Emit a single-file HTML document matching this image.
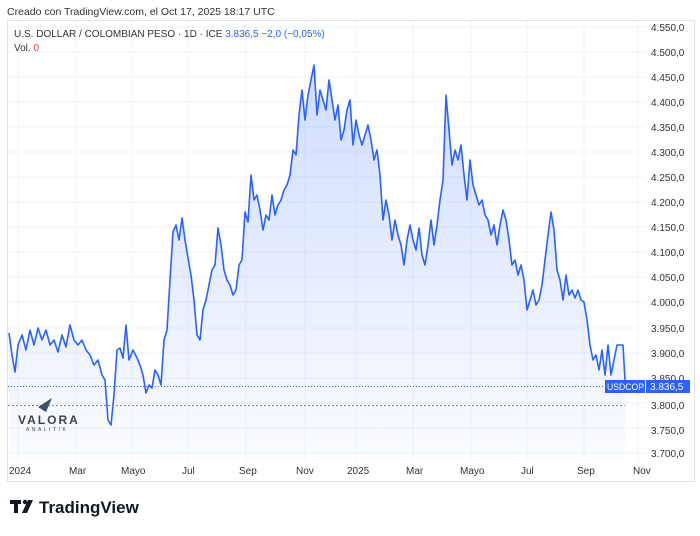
<!DOCTYPE html><html><head><style>body{margin:0;width:700px;height:531px;background:#fff;font-family:"Liberation Sans",sans-serif;overflow:hidden}</style></head><body>
<svg width="700" height="531" xmlns="http://www.w3.org/2000/svg" font-family="Liberation Sans, sans-serif">
<defs><linearGradient id="g" x1="0" y1="0" x2="0" y2="1"><stop offset="0" stop-color="#2962ff" stop-opacity="0.22"/><stop offset="1" stop-color="#2962ff" stop-opacity="0.02"/></linearGradient></defs>
<text x="7" y="15" font-size="10.5" fill="#333">Creado con TradingView.com, el Oct 17, 2025 18:17 UTC</text>
<rect x="7.5" y="20.5" width="687" height="461" fill="none" stroke="#e0e3eb"/>
<g stroke="#f0f3fa" stroke-width="1">
<line x1="18" y1="21" x2="18" y2="460"/><line x1="76" y1="21" x2="76" y2="460"/><line x1="132" y1="21" x2="132" y2="460"/><line x1="188" y1="21" x2="188" y2="460"/><line x1="246" y1="21" x2="246" y2="460"/><line x1="305" y1="21" x2="305" y2="460"/><line x1="356" y1="21" x2="356" y2="460"/><line x1="413" y1="21" x2="413" y2="460"/><line x1="471" y1="21" x2="471" y2="460"/><line x1="527" y1="21" x2="527" y2="460"/><line x1="584" y1="21" x2="584" y2="460"/><line x1="638" y1="21" x2="638" y2="460"/>
<line x1="8" y1="27" x2="645" y2="27"/><line x1="8" y1="52" x2="645" y2="52"/><line x1="8" y1="77" x2="645" y2="77"/><line x1="8" y1="102" x2="645" y2="102"/><line x1="8" y1="127" x2="645" y2="127"/><line x1="8" y1="152" x2="645" y2="152"/><line x1="8" y1="177" x2="645" y2="177"/><line x1="8" y1="202" x2="645" y2="202"/><line x1="8" y1="227" x2="645" y2="227"/><line x1="8" y1="252" x2="645" y2="252"/><line x1="8" y1="277" x2="645" y2="277"/><line x1="8" y1="302" x2="645" y2="302"/><line x1="8" y1="328" x2="645" y2="328"/><line x1="8" y1="353" x2="645" y2="353"/><line x1="8" y1="378" x2="645" y2="378"/><line x1="8" y1="403" x2="645" y2="403"/><line x1="8" y1="428" x2="645" y2="428"/><line x1="8" y1="453" x2="645" y2="453"/>
</g>
<polygon fill="url(#g)" points="9,460 9,333 12,355 15,372 18,345 22,335 26,350 30,330 34,345 38,328 42,340 46,330 50,345 54,340 58,352 62,335 66,347 70,325 74,340 78,345 82,340 86,350 90,355 94,365 98,360 102,375 105,380 108,420 111,425 114,395 117,350 120,348 123,358 126,325 129,360 133,350 137,358 140,365 143,375 146,393 149,385 152,388 155,370 158,375 161,385 164,340 167,330 170,280 173,232 176,225 179,240 182,218 185,240 188,258 191,275 194,300 197,335 200,340 203,310 206,300 209,285 212,270 215,265 218,228 221,245 224,270 227,280 230,285 233,295 236,290 239,265 242,260 245,212 248,222 251,175 254,200 257,195 260,210 263,230 266,215 269,220 272,195 275,215 278,205 281,200 284,190 287,185 290,175 293,150 296,155 299,115 302,90 305,120 308,95 311,80 314,65 317,115 320,90 323,100 326,110 329,80 332,100 335,120 338,105 341,140 344,130 347,110 350,100 353,145 356,120 359,135 362,145 365,135 368,125 371,140 374,160 377,150 380,175 383,220 386,200 389,215 392,240 395,220 398,235 401,245 404,265 407,240 410,225 413,240 416,250 419,228 422,255 425,265 428,245 431,220 434,245 437,225 440,200 443,180 446,95 449,130 452,165 455,150 458,160 461,145 464,175 467,200 470,160 473,185 476,195 479,205 482,200 485,215 488,220 491,235 494,225 497,245 500,225 503,210 506,220 509,240 512,265 515,260 518,275 521,265 524,280 527,310 530,300 533,290 536,305 539,300 542,285 545,260 548,235 551,212 554,230 557,270 560,280 563,300 566,275 569,295 572,290 575,298 578,290 581,300 584,302 587,320 590,345 593,360 596,355 599,370 602,350 605,375 608,345 611,375 614,360 617,345 620,345 623,345 625,380 625,460"/>
<polyline fill="none" stroke="#2962ff" stroke-width="1.6" stroke-linejoin="round" points="9,333 12,355 15,372 18,345 22,335 26,350 30,330 34,345 38,328 42,340 46,330 50,345 54,340 58,352 62,335 66,347 70,325 74,340 78,345 82,340 86,350 90,355 94,365 98,360 102,375 105,380 108,420 111,425 114,395 117,350 120,348 123,358 126,325 129,360 133,350 137,358 140,365 143,375 146,393 149,385 152,388 155,370 158,375 161,385 164,340 167,330 170,280 173,232 176,225 179,240 182,218 185,240 188,258 191,275 194,300 197,335 200,340 203,310 206,300 209,285 212,270 215,265 218,228 221,245 224,270 227,280 230,285 233,295 236,290 239,265 242,260 245,212 248,222 251,175 254,200 257,195 260,210 263,230 266,215 269,220 272,195 275,215 278,205 281,200 284,190 287,185 290,175 293,150 296,155 299,115 302,90 305,120 308,95 311,80 314,65 317,115 320,90 323,100 326,110 329,80 332,100 335,120 338,105 341,140 344,130 347,110 350,100 353,145 356,120 359,135 362,145 365,135 368,125 371,140 374,160 377,150 380,175 383,220 386,200 389,215 392,240 395,220 398,235 401,245 404,265 407,240 410,225 413,240 416,250 419,228 422,255 425,265 428,245 431,220 434,245 437,225 440,200 443,180 446,95 449,130 452,165 455,150 458,160 461,145 464,175 467,200 470,160 473,185 476,195 479,205 482,200 485,215 488,220 491,235 494,225 497,245 500,225 503,210 506,220 509,240 512,265 515,260 518,275 521,265 524,280 527,310 530,300 533,290 536,305 539,300 542,285 545,260 548,235 551,212 554,230 557,270 560,280 563,300 566,275 569,295 572,290 575,298 578,290 581,300 584,302 587,320 590,345 593,360 596,355 599,370 602,350 605,375 608,345 611,375 614,360 617,345 620,345 623,345 625,380"/>
<line x1="8" y1="386.5" x2="645" y2="386.5" stroke="#2962ff" stroke-width="1" stroke-dasharray="1,2"/>
<line x1="8" y1="405.5" x2="625" y2="405.5" stroke="#888" stroke-width="1" stroke-dasharray="2,2"/>
<text x="14" y="37" font-size="10" fill="#333">U.S. DOLLAR / COLOMBIAN PESO · 1D · ICE <tspan fill="#2962ff">3.836,5  −2,0 (−0,05%)</tspan></text>
<text x="14" y="51" font-size="10" fill="#333">Vol. <tspan fill="#f23645">0</tspan></text>
<g font-size="10" fill="#333">
<text x="651" y="31">4.550,0</text><text x="651" y="56">4.500,0</text><text x="651" y="81">4.450,0</text><text x="651" y="106">4.400,0</text><text x="651" y="131">4.350,0</text><text x="651" y="156">4.300,0</text><text x="651" y="181">4.250,0</text><text x="651" y="206">4.200,0</text><text x="651" y="231">4.150,0</text><text x="651" y="256">4.100,0</text><text x="651" y="281">4.050,0</text><text x="651" y="306">4.000,0</text><text x="651" y="332">3.950,0</text><text x="651" y="357">3.900,0</text><text x="651" y="382">3.850,0</text><text x="651" y="409">3.800,0</text><text x="651" y="434">3.750,0</text><text x="651" y="457">3.700,0</text>
<text x="9" y="474">2024</text><text x="69" y="474">Mar</text><text x="121" y="474">Mayo</text><text x="182" y="474">Jul</text><text x="239" y="474">Sep</text><text x="296" y="474">Nov</text><text x="347" y="474">2025</text><text x="406" y="474">Mar</text><text x="460" y="474">Mayo</text><text x="521" y="474">Jul</text><text x="577" y="474">Sep</text><text x="633" y="474">Nov</text>
</g>
<rect x="605" y="380" width="40" height="13" fill="#2962ff"/><text x="607" y="390" font-size="9" fill="#fff" textLength="37" lengthAdjust="spacingAndGlyphs">USDCOP</text>
<rect x="646" y="380" width="44" height="13" fill="#2962ff"/><text x="650" y="390" font-size="10" fill="#fff">3.836,5</text>
<polygon points="38,407 52,398 46,412" fill="#3d4f66"/>
<text x="18" y="424" font-size="12" font-weight="bold" fill="#3d4450" letter-spacing="2">VALORA</text>
<text x="26" y="431" font-size="5" fill="#3d4450" letter-spacing="2.5">ANALITIK</text>
<g fill="#131722"><rect x="10" y="500" width="11" height="4"/><rect x="14" y="500" width="4" height="13"/><circle cx="25" cy="502" r="2.2"/><polygon points="28,500 33,500 27,513 22,513"/></g>
<text x="39" y="513" font-size="17" font-weight="bold" fill="#131722">TradingView</text>
</svg></body></html>
